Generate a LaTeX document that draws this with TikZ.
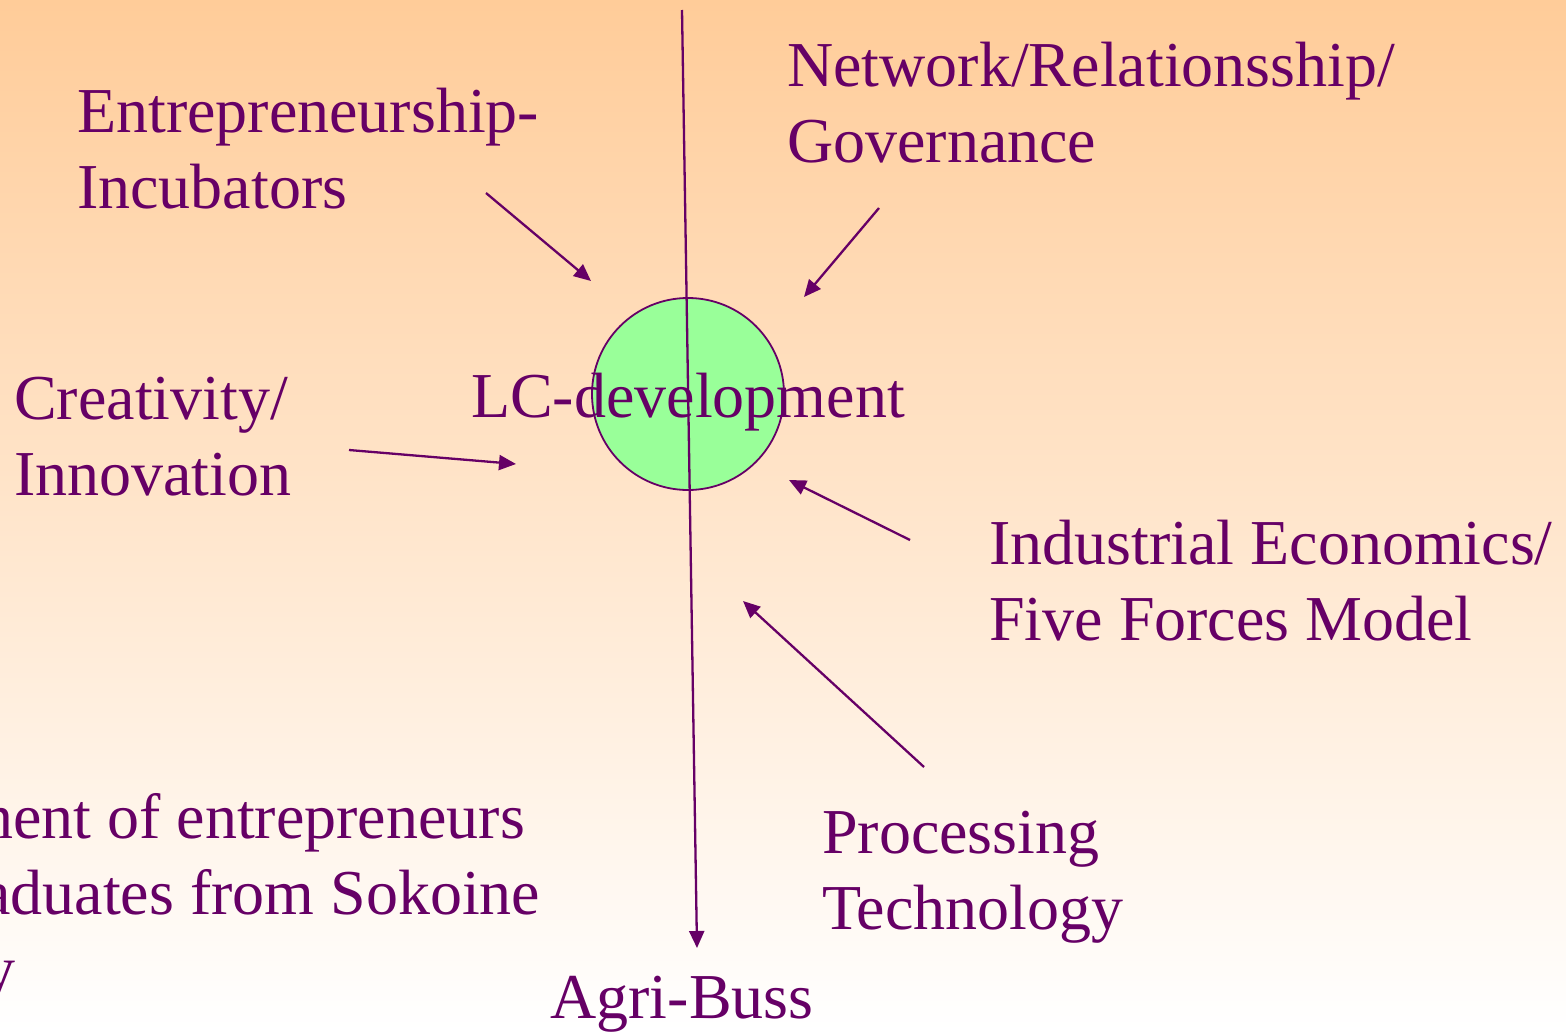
\documentclass[tikz,border=0pt]{standalone}
\usepackage{fontspec}
\setmainfont{Liberation Serif}
\usetikzlibrary{arrows.meta}
\definecolor{ink}{RGB}{102,0,102}
\definecolor{peach}{RGB}{255,204,153}
\definecolor{mint}{RGB}{153,255,153}
\begin{document}
\begin{tikzpicture}[x=1pt,y=-1pt,
  lbl/.style={text=ink,font=\fontsize{64}{75.5}\selectfont,inner sep=0pt,align=left,anchor=base west},
  conn/.style={draw=ink,line width=2.3pt,-{Triangle[length=17pt,width=15pt]}}]
  \useasboundingbox (0,0) rectangle (1566,1031);
  \shade[top color=peach,bottom color=white] (0,0) rectangle (1566,1031);
  \clip (0,0) rectangle (1566,1031);
  % central circle
  \node[circle,draw=ink,line width=1.8pt,fill=mint,minimum size=192pt,inner sep=0pt] (circ) at (688,394) {};
  % vertical arrow
  \coordinate (vtop) at (682,10);
  \coordinate (vbot) at (697,948);
  \draw[conn] (vtop) -- (vbot);
  \node[lbl,anchor=base] (lc) at (688,417) {LC-development};
  % labels (base = baseline of last line)
  \node[lbl] (ent) at (77,208) {Entrepreneurship-\\Incubators};
  \node[lbl] (net) at (787,162) {Network/Relationsship/\\Governance};
  \node[lbl] (cre) at (14,495) {Creativity/\\Innovation};
  \node[lbl] (ind) at (989,640) {Industrial Economics/\\Five Forces Model};
  \node[lbl] (pro) at (822,929) {Processing\\Technology};
  \node[lbl,anchor=base] (agr) at (682,1018) {Agri-Buss};
  \node[lbl] (dev1) at (-19,838) {nent of entrepreneurs};
  \node[lbl] (dev2) at (-18,914) {aduates from Sokoine};
  \node[lbl] (dev3) at (-17,990) {y};
  % arrows
  \coordinate (e0) at (486,193); \coordinate (e1) at (591,281);
  \coordinate (n0) at (879,208); \coordinate (n1) at (804,297);
  \coordinate (c0) at (349,450); \coordinate (c1) at (516,464);
  \coordinate (i0) at (910,540); \coordinate (i1) at (789,480);
  \coordinate (p0) at (924,767); \coordinate (p1) at (743,601);
  \draw[conn] (e0) -- (e1);
  \draw[conn] (n0) -- (n1);
  \draw[conn] (c0) -- (c1);
  \draw[conn] (i0) -- (i1);
  \draw[conn] (p0) -- (p1);
\end{tikzpicture}
\end{document}
